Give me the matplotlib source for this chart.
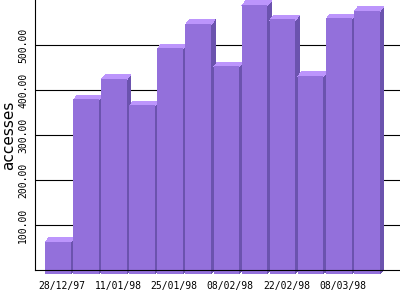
#!/usr/env/python
# Weekly accesses, 3D-ish bar chart
import numpy as np
from matplotlib import pyplot as plt
from matplotlib.patches import Polygon, Rectangle

# data
weeks = ['28/12/97', '04/01/98', '11/01/98', '18/01/98', '25/01/98', '01/02/98',
         '08/02/98', '15/02/98', '22/02/98', '01/03/98', '08/03/98', '15/03/98']
accesses = [72, 388, 434, 375, 502, 556, 462, 598, 566, 441, 568, 585]
yticks = [100, 200, 300, 400, 500]

# colours
c_front = '#9370DB'
c_top = '#BC95FC'
c_side = '#6B53AE'

fig = plt.figure(figsize=(4, 3), dpi=100)
ax = fig.add_axes([35/400, 30/300, 365/400, 270/300])

ax.set_xlim(-0.81, 12.18)
ax.set_ylim(0, 600)

x = np.arange(len(accesses))
w = 0.91              # front face width
dx = 4/28.09          # depth offset (x)
dy = 4/0.45           # depth offset (y)

for xi, v in zip(x, accesses):
    x0 = xi - w/2
    x1 = xi + w/2
    # side face
    ax.add_patch(Polygon([(x1-0.02, -dy), (x1+dx, 0), (x1+dx, v), (x1-0.02, v-dy)],
                         closed=True, facecolor=c_side, edgecolor='none',
                         zorder=3, clip_on=False, antialiased=False))
    # top face
    ax.add_patch(Polygon([(x0, v-dy-2), (x1, v-dy-2), (x1+dx, v), (x0+dx, v)],
                         closed=True, facecolor=c_top, edgecolor='none',
                         zorder=3, clip_on=False, antialiased=False))
    # front face, pushed down below the axis by the depth
    ax.add_patch(Rectangle((x0, -dy), w, v, facecolor=c_front, edgecolor='none',
                           zorder=4, clip_on=False, antialiased=False))

# grid lines behind the bars
for yt in yticks:
    ax.axhline(yt, color='black', linewidth=0.8, zorder=1)

# spines
for s in ['top', 'right']:
    ax.spines[s].set_visible(False)
ax.spines['left'].set_linewidth(0.8)
ax.spines['bottom'].set_linewidth(0.8)
ax.spines['bottom'].set_zorder(5)
ax.spines['left'].set_zorder(5)

# ticks
ax.set_yticks(yticks)
ax.set_yticklabels(['%.2f' % t for t in yticks], rotation=90, va='center',
                   family='DejaVu Sans Mono', fontsize=7)
ax.set_xticks(x[::2] + dx)
ax.set_xticklabels(weeks[::2], family='DejaVu Sans Mono', fontsize=7)
ax.tick_params(axis='y', length=0, pad=5)
ax.tick_params(axis='x', length=0, pad=8)

ax.set_ylabel('accesses', fontsize=11)
ax.yaxis.set_label_coords(-0.052, 0.5)

plt.savefig('out.png', dpi=100)
